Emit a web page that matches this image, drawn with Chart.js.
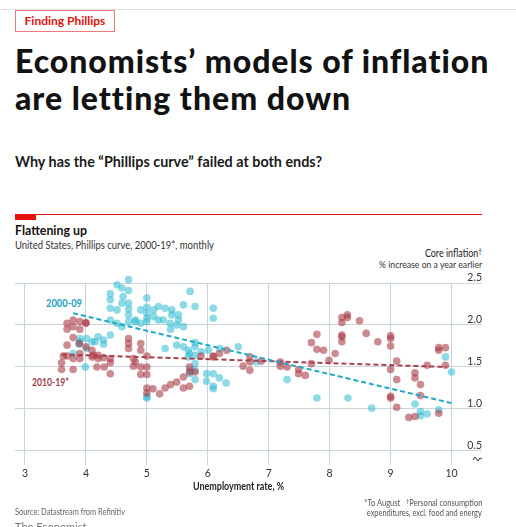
<!DOCTYPE html>
<html lang="en">
<head>
<meta charset="UTF-8">
<title>Flattening up</title>
<script src="https://cdn.jsdelivr.net/npm/chart.js"></script>
<style>
    body { margin: 0; width: 516px; height: 527px; overflow: hidden; background: #fff; position: relative;
           font-family: Lato, "Noto Sans", sans-serif; color: #121212; }
    .t { position: absolute; white-space: nowrap; line-height: 1.2; transform-origin: left top; }
    .r { right: 34px; text-align: right; transform-origin: right top; }
    sup { font-size: 0.7em; line-height: 0; vertical-align: 0.45em; }
</style>
</head>
<body>
    <div style="position:absolute;left:0;top:9px;width:516px;height:1px;background:#e2e2e2"></div>
    <div style="position:absolute;left:15px;top:10px;width:100px;height:22px;box-sizing:border-box;border:1px solid #ee7b7b;
                color:#e3120b;font-size:12px;font-weight:700;line-height:20px;text-align:center">Finding Phillips</div>

    <div class="t" data-w="475" style="left:15px;top:41.6px;font-size:32px;font-weight:900;line-height:37.5px">Economists’ models of inflation</div>
    <div class="t" data-w="335" style="left:15px;top:79px;font-size:32px;font-weight:900;line-height:37.5px">are letting them down</div>

    <div class="t" data-w="307" style="left:15px;top:151.9px;font-size:15px;font-weight:700;color:#1a1a1a">Why has the “Phillips curve” failed at both ends?</div>

    <div style="position:absolute;left:15px;top:214px;width:467px;height:1px;background:#e3120b"></div>
    <div style="position:absolute;left:15px;top:214px;width:21px;height:6px;background:#e3120b"></div>

    <div class="t" data-w="72" style="left:15px;top:223.4px;font-size:12.5px;font-weight:700">Flattening up</div>
    <div class="t" data-w="199" style="left:15px;top:238.6px;font-size:10.5px;color:#333">United States, Phillips curve, 2000-19*, monthly</div>

    <div class="t r" data-w="57" style="top:246.9px;font-size:10.5px;color:#222">Core inflation<sup>†</sup></div>
    <div class="t r" data-w="103" style="top:258.1px;font-size:10px;color:#333">% increase on a year earlier</div>

    <div class="t" data-w="36" style="left:45.7px;top:296.9px;font-size:10.5px;font-weight:700;color:#1aa3c3">2000-09</div>
    <div class="t" data-w="37" style="left:31.7px;top:375.6px;font-size:10.5px;font-weight:700;color:#a13c4d">2010-19*</div>

    <canvas id="myChart" width="516" height="220" style="position:absolute;left:0;top:270px"></canvas>

    <div class="t" data-w="91" style="left:192.5px;top:479.6px;font-size:10.5px;font-weight:700;color:#222">Unemployment rate, %</div>

    <div class="t" data-w="110" style="left:15px;top:507.1px;font-size:9px;color:#666">Source: Datastream from Refinitiv</div>
    <div class="t" style="left:15px;top:520px;font-size:11px;color:#777">The Economist</div>

    <div class="t r" data-w="118" style="top:497.8px;font-size:9px;color:#555">*To August <span style="margin-left:5px"><sup>†</sup>Personal consumption</span></div>
    <div class="t r" data-w="115" style="top:507.8px;font-size:9px;color:#555">expenditures, excl. food and energy</div>

<script>
    // tick labels
    const xTicks = [3, 4, 5, 6, 7, 8, 9, 10];
    const yTicks = [0.5, 1, 1.5, 2, 2.5];

    // [unemployment %, core inflation %], 2000-09
    const points0009 = [
        [4.70, 2.54], [4.51, 2.48], [4.59, 2.44], [4.70, 2.41], [4.40, 2.37], [4.40, 2.30], [4.61, 2.34],
        [4.59, 2.26], [4.70, 2.26], [4.40, 2.20], [4.51, 2.18], [4.70, 2.19], [4.70, 2.12], [4.40, 2.06],
        [4.51, 2.02], [4.59, 1.98], [4.70, 2.04], [4.81, 2.06], [4.90, 2.18], [5.00, 2.32], [5.00, 2.21],
        [5.00, 2.14], [5.00, 2.08], [5.11, 2.18], [5.11, 2.10], [5.19, 2.22], [5.30, 2.20], [5.41, 2.18],
        [5.41, 2.12], [5.52, 2.12], [5.52, 2.06], [5.38, 2.02], [5.49, 2.00], [5.27, 2.06], [5.71, 2.40],
        [5.79, 2.22], [5.19, 2.06], [4.90, 2.02], [5.60, 2.24], [5.39, 1.95], [5.60, 1.98], [4.81, 2.04],
        [5.00, 2.04], [6.09, 2.20], [6.09, 2.08],
        [4.20, 1.86], [4.29, 1.82], [4.40, 1.88], [4.01, 1.84], [4.10, 1.80], [3.90, 1.80], [3.90, 1.84],
        [3.79, 1.66], [4.01, 1.72], [3.99, 1.50], [4.29, 1.77], [4.15, 1.80], [3.89, 1.77],
        [5.30, 1.72], [5.49, 1.76], [5.60, 1.74], [5.68, 1.70], [5.79, 1.74], [5.68, 1.62], [5.79, 1.64],
        [5.79, 1.79], [5.70, 1.66], [5.89, 1.68], [6.01, 1.70], [6.20, 1.72], [6.50, 1.74],
        [5.70, 1.42], [5.71, 1.46], [5.79, 1.35], [5.79, 1.54], [5.79, 1.46], [5.98, 1.42], [6.09, 1.42],
        [5.98, 1.33], [6.09, 1.27], [6.09, 1.24], [6.19, 1.37], [6.30, 1.31], [5.00, 1.13], [5.00, 1.15],
        [6.80, 1.56], [7.30, 1.35], [7.79, 1.13], [8.30, 1.13], [8.69, 1.01], [9.40, 1.06], [9.49, 0.97],
        [9.49, 0.92], [9.60, 0.94], [9.79, 0.99], [9.90, 1.62], [10.0, 1.44]
    ];

    // [unemployment %, core inflation %], 2010-19
    const points1019 = [
        [3.69, 2.02], [3.79, 2.06], [3.90, 2.04], [4.00, 2.02], [3.69, 1.95], [3.79, 1.98], [3.90, 1.95],
        [4.00, 2.03], [3.79, 1.85], [3.69, 1.76], [3.89, 1.78],
        [4.10, 1.70], [4.10, 1.62], [3.63, 1.63], [3.69, 1.63], [3.79, 1.60], [3.90, 1.60], [3.60, 1.55],
        [3.60, 1.47], [3.79, 1.47], [4.20, 1.60], [4.29, 1.61], [4.40, 1.60], [4.40, 1.55], [4.18, 1.50],
        [4.30, 1.50], [4.40, 1.42], [3.90, 1.66], [4.00, 1.74], [4.12, 1.64], [4.20, 1.64],
        [4.70, 1.84], [4.70, 1.78], [4.70, 1.72], [4.90, 1.78], [4.90, 1.70], [5.00, 1.63], [4.78, 1.60],
        [4.78, 1.51], [4.90, 1.50], [5.00, 1.50], [4.90, 1.41], [5.00, 1.41], [4.81, 1.56],
        [5.00, 1.25], [5.00, 1.19], [5.10, 1.24], [5.21, 1.18], [5.30, 1.25], [5.39, 1.29], [5.49, 1.32],
        [5.60, 1.38], [5.60, 1.25], [5.70, 1.27], [5.70, 1.50], [5.70, 1.44], [5.79, 1.44], [5.89, 1.63],
        [6.09, 1.63], [6.19, 1.66], [6.31, 1.70], [6.09, 1.62],
        [6.58, 1.51], [6.69, 1.56], [6.69, 1.46], [6.69, 1.62], [6.88, 1.57], [7.19, 1.56], [7.19, 1.51],
        [7.30, 1.50], [7.49, 1.47], [7.49, 1.42], [7.60, 1.40], [7.70, 1.54], [7.70, 1.79], [7.79, 1.89],
        [7.79, 1.71], [7.90, 1.70], [7.99, 1.58], [8.09, 1.66], [8.20, 2.09], [8.20, 2.03], [8.29, 2.12],
        [8.29, 2.09], [8.20, 1.88], [8.20, 1.86], [8.20, 1.80], [8.49, 2.05], [8.60, 1.90], [8.79, 1.80],
        [9.00, 1.87], [9.00, 1.84], [9.00, 1.75], [9.00, 1.47], [9.10, 1.57], [9.10, 1.35], [9.00, 1.15],
        [9.00, 1.13], [9.10, 1.02], [9.30, 0.90], [9.40, 0.91], [9.40, 1.43], [9.40, 1.37], [9.49, 1.29],
        [9.49, 1.16], [9.60, 1.52], [9.79, 1.73], [9.79, 1.70], [9.90, 1.73], [9.90, 1.52], [9.79, 0.95]
    ];

    // fitted lines, end points
    const trend0009 = [[3.79, 2.14], [10.0, 1.07]];
    const trend1019 = [[3.60, 1.65], [9.92, 1.50]];

    const toXY = arr => arr.map(p => ({ x: p[0], y: p[1] }));

    // fit texts to the widths in the picture: squeeze if too wide, space the letters if too narrow
    document.querySelectorAll('[data-w]').forEach(el => {
        let w = +el.dataset.w;
        let cur = el.getBoundingClientRect().width;
        if (cur > w) {
            el.style.transform = 'scaleX(' + (w / cur) + ')';
        } else {
            el.style.letterSpacing = ((w - cur) / el.textContent.length) + 'px';
        }
    });

    const labels = {
        id: 'labels',
        afterDraw(chart) {
            let ctx = chart.ctx, x = chart.scales.x, y = chart.scales.y;
            ctx.save();
            ctx.fillStyle = '#333';
            ctx.font = '10.5px Lato, "Noto Sans", sans-serif';
            ctx.textAlign = 'center';
            ctx.textBaseline = 'alphabetic';
            xTicks.forEach(v => ctx.fillText(String(v), x.getPixelForValue(v), 206.7));
            ctx.textAlign = 'right';
            yTicks.forEach(v => ctx.fillText(v.toFixed(1), chart.chartArea.right, y.getPixelForValue(v) - 2));
            // axis break mark under 0.5
            let bx = chart.chartArea.right - 5, by = y.getPixelForValue(0.5) + 8;
            ctx.strokeStyle = '#333';
            ctx.lineWidth = 1;
            ctx.beginPath();
            ctx.moveTo(bx - 4, by + 1);
            ctx.lineTo(bx - 2, by - 2);
            ctx.lineTo(bx + 1, by + 2);
            ctx.lineTo(bx + 3, by - 1);
            ctx.lineTo(bx + 5, by);
            ctx.stroke();
            ctx.restore();
        }
    };

    let ctx = document.getElementById('myChart').getContext('2d');
    let myChart = new Chart(ctx, {
        type: 'scatter',
        data: {
            datasets: [{
                type: 'line',
                data: toXY(trend0009),
                borderColor: '#1fa9c7',
                borderWidth: 2,
                borderDash: [5, 3],
                pointRadius: 0,
                order: 0
            }, {
                type: 'line',
                data: toXY(trend1019),
                borderColor: '#a8404f',
                borderWidth: 2,
                borderDash: [5, 3],
                pointRadius: 0,
                order: 0
            }, {
                data: toXY(points1019),
                backgroundColor: 'rgba(170, 60, 72, 0.6)',
                borderWidth: 0,
                pointRadius: 3.8,
                clip: false,
                order: 1
            }, {
                data: toXY(points0009),
                backgroundColor: 'rgba(48, 186, 210, 0.55)',
                borderWidth: 0,
                pointRadius: 3.8,
                clip: false,
                order: 2
            }]
        },
        options: {
            responsive: false,
            animation: false,
            events: [],
            layout: { padding: { left: 15, right: 34, top: 13, bottom: 25 } },
            plugins: { legend: { display: false }, tooltip: { enabled: false } },
            scales: {
                x: {
                    type: 'linear',
                    min: 2.836,
                    max: 10.5,
                    afterBuildTicks: s => { s.ticks = xTicks.map(v => ({ value: v })); },
                    afterFit: s => { s.height = 0; },
                    ticks: { display: false },
                    grid: { color: '#c9d4db', drawTicks: false },
                    border: { display: false }
                },
                y: {
                    min: 0.333,
                    max: 2.5,
                    afterBuildTicks: s => { s.ticks = yTicks.map(v => ({ value: v })); },
                    afterFit: s => { s.width = 0; },
                    ticks: { display: false },
                    grid: { color: '#c9d4db', drawTicks: false },
                    border: { display: false }
                }
            }
        },
        plugins: [labels]
    });
</script>
</body>
</html>
